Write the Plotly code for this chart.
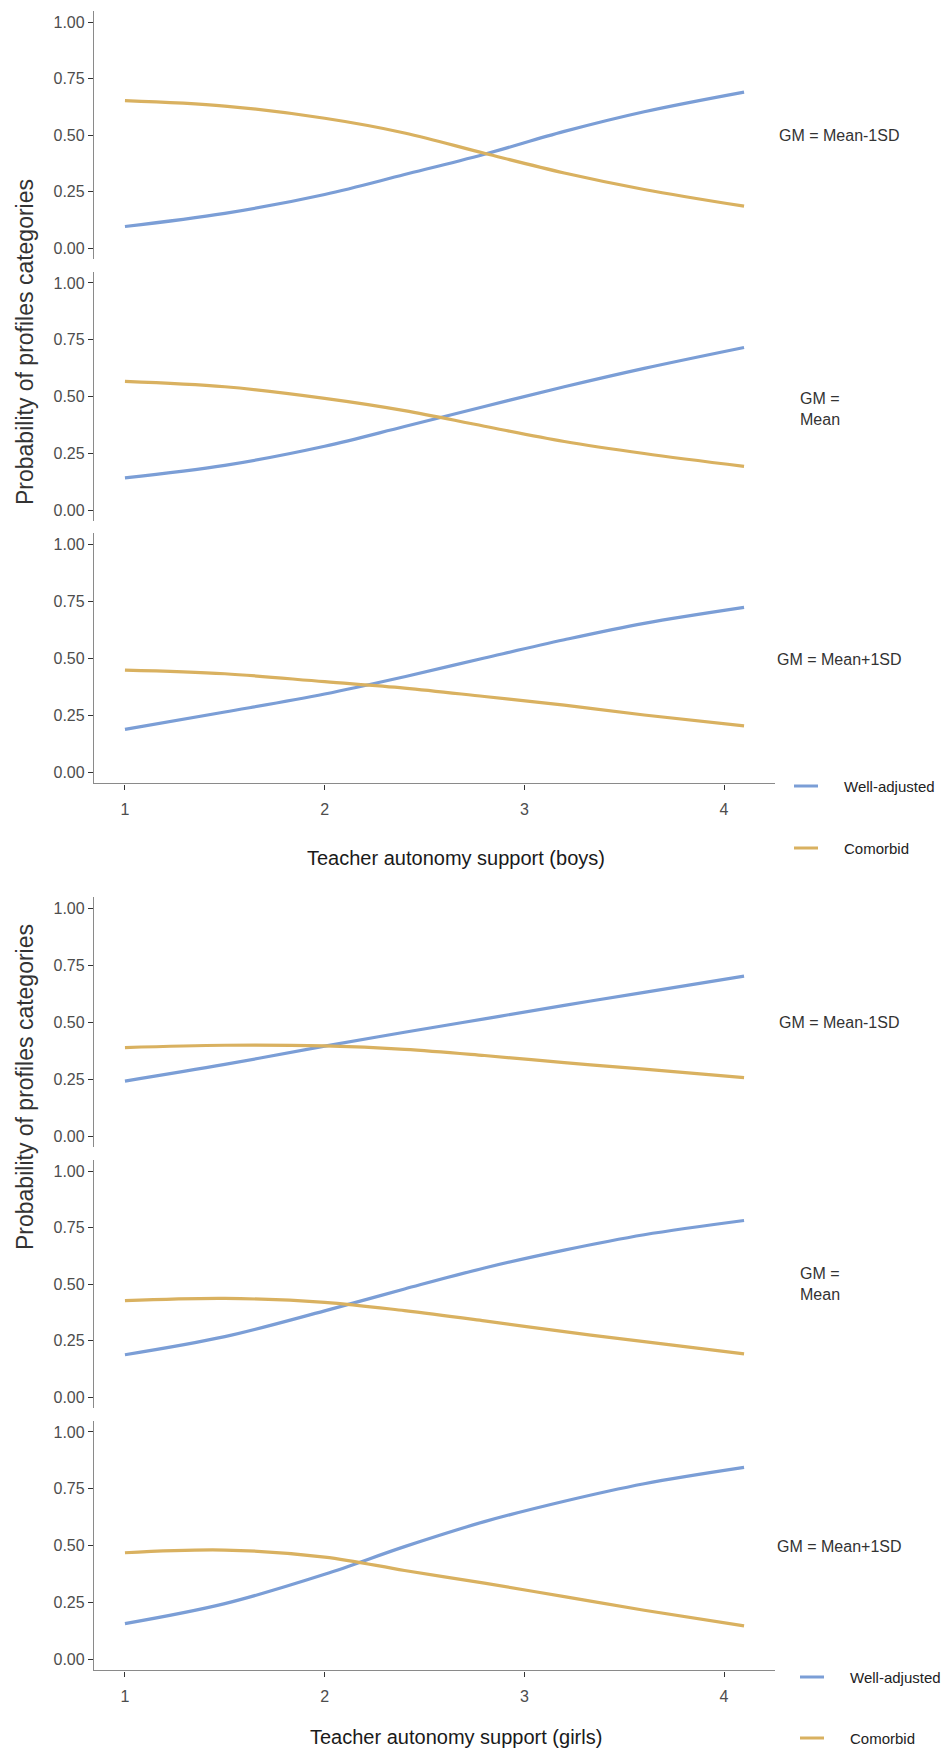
import plotly.graph_objects as go

# ---------------- data ----------------
x_support = [1.0, 1.5, 2.0, 2.4, 2.8, 3.2, 3.6, 4.1]
series_names = ["Well-adjusted", "Comorbid"]
panel_labels = ["GM = Mean-1SD", "GM =<br>Mean", "GM = Mean+1SD",
                "GM = Mean-1SD", "GM =<br>Mean", "GM = Mean+1SD"]
x_titles = ["Teacher autonomy support (boys)", "Teacher autonomy support (girls)"]
y_title = "Probability of profiles categories"
y_ticks = [0.0, 0.25, 0.5, 0.75, 1.0]
x_ticks = [1, 2, 3, 4]

# boys
boys_m1sd_well = [0.095, 0.153, 0.237, 0.325, 0.415, 0.516, 0.603, 0.690]
boys_m1sd_comor = [0.652, 0.628, 0.574, 0.509, 0.419, 0.332, 0.259, 0.185]
boys_mean_well = [0.142, 0.197, 0.281, 0.368, 0.456, 0.543, 0.624, 0.716]
boys_mean_comor = [0.567, 0.543, 0.492, 0.438, 0.369, 0.302, 0.249, 0.192]
boys_p1sd_well = [0.187, 0.263, 0.342, 0.418, 0.500, 0.580, 0.652, 0.722]
boys_p1sd_comor = [0.447, 0.431, 0.396, 0.368, 0.331, 0.293, 0.250, 0.202]
# girls
girls_m1sd_well = [0.241, 0.314, 0.394, 0.455, 0.514, 0.573, 0.630, 0.701]
girls_m1sd_comor = [0.388, 0.398, 0.395, 0.380, 0.353, 0.322, 0.293, 0.256]
girls_mean_well = [0.187, 0.267, 0.381, 0.478, 0.571, 0.650, 0.718, 0.781]
girls_mean_comor = [0.426, 0.436, 0.419, 0.382, 0.337, 0.289, 0.245, 0.191]
girls_p1sd_well = [0.156, 0.244, 0.373, 0.495, 0.605, 0.695, 0.772, 0.844]
girls_p1sd_comor = [0.468, 0.480, 0.449, 0.390, 0.334, 0.275, 0.215, 0.146]

panels = [
    (boys_m1sd_well, boys_m1sd_comor),
    (boys_mean_well, boys_mean_comor),
    (boys_p1sd_well, boys_p1sd_comor),
    (girls_m1sd_well, girls_m1sd_comor),
    (girls_mean_well, girls_mean_comor),
    (girls_p1sd_well, girls_p1sd_comor),
]

# ---------------- style / layout ----------------
W, H = 949, 1752
COLORS = ["#7B9ED6", "#D9B160"]
FONT = "Arial, Liberation Sans, sans-serif"
TICK_COL = "#4d4d4d"
AXIS_COL = "#8a8a8a"

# panel pixel extents (top, bottom) incl. 5% expansion
panel_px = [(10.7, 259.3), (271.6, 521.4), (532.6, 783.4),
            (896.6, 1147.4), (1159.7, 1408.3), (1420.6, 1670.4)]
label_y_px = [135, 409, 659, 1022, 1284, 1546]
label_x_px = [777, 798, 775, 777, 798, 775]
x_left, x_right = 94, 775


def py(p):
    return 1 - p / H


def px(p):
    return p / W


fig = go.Figure()
for i, (well, comor) in enumerate(panels):
    xa = "x" if i < 3 else "x2"
    ya = "y" if i == 0 else f"y{i+1}"
    for j, vals in enumerate([well, comor]):
        fig.add_trace(go.Scatter(
            x=x_support, y=vals, mode="lines", name=series_names[j],
            line=dict(color=COLORS[j], width=3.2, shape="spline", smoothing=1.0),
            xaxis=xa, yaxis=ya, showlegend=False, hoverinfo="skip"))

layout = dict(
    width=W, height=H, margin=dict(l=0, r=0, t=0, b=0),
    paper_bgcolor="white", plot_bgcolor="white",
    font=dict(family=FONT, color=TICK_COL, size=16),
    showlegend=False,
)

for k, bottom_panel in enumerate([3, 6]):
    name = "xaxis" if k == 0 else "xaxis2"
    layout[name] = dict(
        domain=[px(x_left), px(x_right)], range=[0.845, 4.255],
        anchor=f"y{bottom_panel}", tickvals=x_ticks, ticks="outside",
        ticklen=5, tickwidth=1.2, tickcolor="#333", showline=True,
        linecolor=AXIS_COL, linewidth=1.3, showgrid=False, zeroline=False,
        tickfont=dict(size=16, color=TICK_COL), ticklabelstandoff=6,
    )

for i, (top, bot) in enumerate(panel_px):
    name = "yaxis" if i == 0 else f"yaxis{i+1}"
    layout[name] = dict(
        domain=[py(bot), py(top)], range=[-0.05, 1.05],
        anchor="x" if i < 3 else "x2", tickvals=y_ticks, tickformat=".2f",
        ticks="outside", ticklen=5, tickwidth=1.2, tickcolor="#333",
        showline=True, linecolor=AXIS_COL, linewidth=1.3, showgrid=False,
        zeroline=False, tickfont=dict(size=16, color=TICK_COL),
    )

fig.update_layout(**layout)

ann = []
for i, lab in enumerate(panel_labels):
    ann.append(dict(text=lab, xref="paper", yref="paper", x=px(label_x_px[i]),
                    y=py(label_y_px[i]), xanchor="left", yanchor="middle",
                    showarrow=False, align="left",
                    font=dict(size=16, color="#333")))

# axis titles
for yc in [342, 1087]:
    ann.append(dict(text=y_title, xref="paper", yref="paper", x=px(25), y=py(yc),
                    textangle=-90, showarrow=False, xanchor="center",
                    yanchor="middle", font=dict(size=23, color="#333")))
for k, yc in enumerate([858, 1737]):
    ann.append(dict(text=x_titles[k], xref="paper", yref="paper", x=px(456),
                    y=py(yc), showarrow=False, xanchor="center",
                    yanchor="middle", font=dict(size=20, color="#1a1a1a")))

# legends (two, one per figure)
shapes = []
legend_rows = [((794, 818, 842), (786, 848)), ((800, 824, 848), (1677, 1738))]
for (xs, xe, xt), ys in legend_rows:
    for j, yy in enumerate(ys):
        shapes.append(dict(type="line", xref="paper", yref="paper",
                           x0=px(xs), x1=px(xe), y0=py(yy), y1=py(yy),
                           line=dict(color=COLORS[j], width=3)))
        ann.append(dict(text=series_names[j], xref="paper", yref="paper",
                        x=px(xt), y=py(yy), xanchor="left", yanchor="middle",
                        showarrow=False, font=dict(size=15, color="#222")))

fig.update_layout(annotations=ann, shapes=shapes)
fig.write_html("out.html")
